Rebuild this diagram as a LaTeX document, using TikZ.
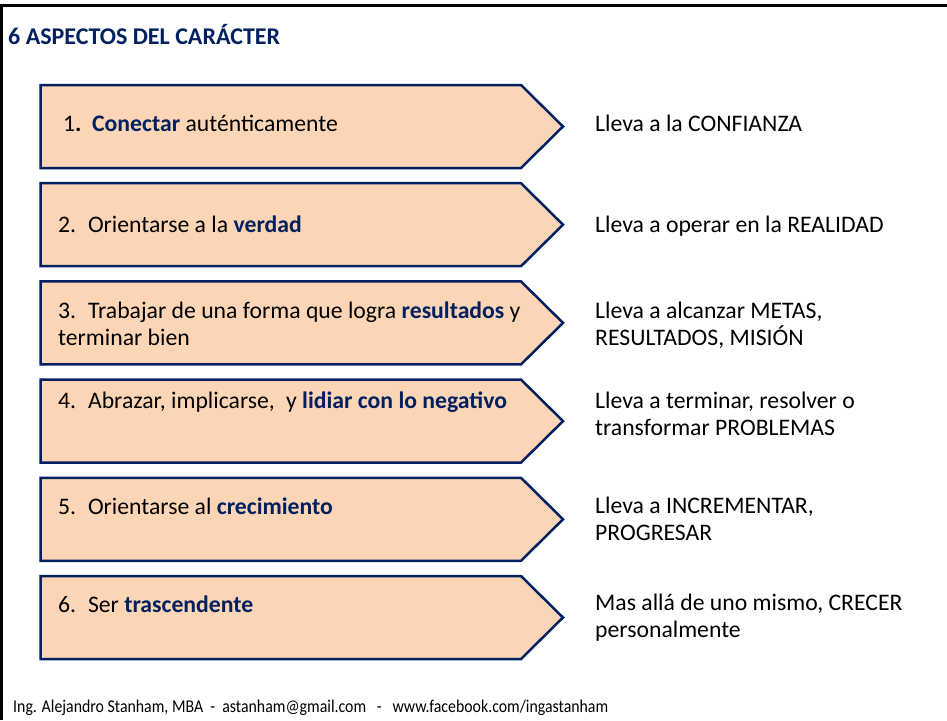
\documentclass[tikz,border=0pt]{standalone}
\usepackage{fontspec}
\setmainfont{Carlito}
\definecolor{navy}{RGB}{0,32,96}
\definecolor{peach}{RGB}{251,213,181}
\newcommand\hl[1]{\textcolor{navy}{\textbf{#1}}}
\begin{document}
\begin{tikzpicture}[x=1pt,y=-1pt,
  chev/.style={fill=peach, draw=navy, line width=2.5pt, line join=miter},
  txt/.style={anchor=base west, inner sep=0pt, font=\fontsize{23.7}{27}\selectfont, text=black},
  ttl/.style={anchor=base west, inner sep=0pt, font=\fontsize{24}{28}\selectfont\bfseries, text=navy},
  foot/.style={anchor=base west, inner sep=0pt, font=\fontsize{18}{20}\selectfont, text=black}]
\useasboundingbox (0,0) rectangle (947,720);
\draw[line width=2.6pt] (1.3,720) -- (1.3,5.5) -- (947,5.5);
\node[ttl] (title) at (8,44) {6 ASPECTOS DEL CARÁCTER};
\foreach \t in {85,183.2,281.4,379.6,477.8,576}
  \draw[chev] (40.5,\t) -- (521,\t) -- (563,\t+41.5) -- (521,\t+83) -- (40.5,\t+83) -- cycle;
% left texts
\node[txt] (l1) at (63,131) {1\textbf{.}\hspace{0.45em}\hl{Conectar} auténticamente};
\node[txt] (l2) at (58,232) {2.\hspace{0.5em}Orientarse a la \hl{verdad}};
\node[txt] (l3) at (58,318) {\begin{tabular}[t]{@{}l@{}}3.\hspace{0.5em}Trabajar de una forma que logra \hl{resultados} y\\ terminar bien\end{tabular}};
\node[txt] (l4) at (58,408) {4.\hspace{0.5em}Abrazar, implicarse,\hspace{0.25em} y \hl{lidiar con lo negativo}};
\node[txt] (l5) at (58,514) {5.\hspace{0.5em}Orientarse al \hl{crecimiento}};
\node[txt] (l6) at (58,612) {6.\hspace{0.5em}Ser \hl{trascendente}};
% right texts
\node[txt] (r1) at (595,131) {Lleva a la CONFIANZA};
\node[txt] (r2) at (595,232) {Lleva a operar en la REALIDAD};
\node[txt] (r3) at (595,318) {\begin{tabular}[t]{@{}l@{}}Lleva a alcanzar METAS,\\ RESULTADOS, MISIÓN\end{tabular}};
\node[txt] (r4) at (595,408) {\begin{tabular}[t]{@{}l@{}}Lleva a terminar, resolver o\\ transformar PROBLEMAS\end{tabular}};
\node[txt] (r5) at (595,513) {\begin{tabular}[t]{@{}l@{}}Lleva a INCREMENTAR,\\ PROGRESAR\end{tabular}};
\node[txt] (r6) at (595,610) {\begin{tabular}[t]{@{}l@{}}Mas allá de uno mismo, CRECER\\ personalmente\end{tabular}};
\node[foot] (footer) at (13,712) {\scalebox{0.88}[1]{Ing. Alejandro Stanham, MBA\ \ -\ \ astanham@gmail.com\ \ \ -\ \ \ www.facebook.com/ingastanham}};
\end{tikzpicture}
\end{document}
